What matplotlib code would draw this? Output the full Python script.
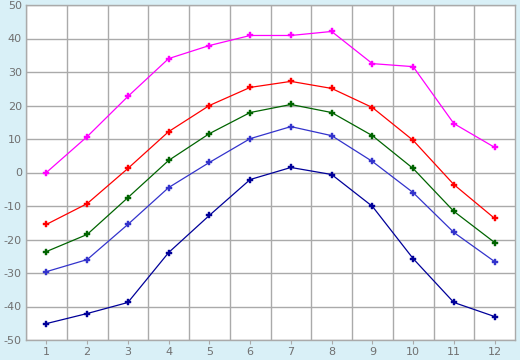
import matplotlib
matplotlib.use("Agg")
import matplotlib.pyplot as plt

plt.rcParams["axes.unicode_minus"] = False

months = list(range(1, 13))
s_max = [0, 10.7, 22.7, 34.0, 37.9, 40.9, 40.9, 42.1, 32.5, 31.6, 14.6, 7.5]
s_high = [-15.5, -9.3, 1.2, 12.2, 20.0, 25.4, 27.2, 25.1, 19.4, 9.6, -3.6, -13.7]
s_mean = [-23.6, -18.5, -7.5, 3.6, 11.6, 17.9, 20.3, 17.9, 11.0, 1.2, -11.6, -20.9]
s_low = [-29.6, -26.0, -15.5, -4.5, 3.0, 10.1, 13.7, 11.0, 3.3, -6.0, -17.9, -26.6]
s_min = [-45.1, -42.1, -38.8, -23.9, -12.8, -2.1, 1.5, -0.6, -10.1, -25.7, -38.8, -43.0]

series = [
    (s_max, "#ff00ff"),
    (s_high, "#ff0000"),
    (s_mean, "#006400"),
    (s_low, "#3333cc"),
    (s_min, "#000099"),
]

bg = "#d9f0f7"
grid = "#aaaaaa"

fig = plt.figure(figsize=(5.2, 3.6), dpi=100, facecolor=bg)
ax = fig.add_axes([26 / 520, 1 - 340 / 360, 489 / 520, 335 / 360])
ax.set_facecolor("white")

for vals, col in series:
    ax.plot(months, vals, color=col, lw=0.9, marker="P", ms=4,
            mec=col, mfc=col, mew=0.3, zorder=3)

ax.set_xlim(0.5, 12.5)
ax.set_ylim(-50, 50)
ax.set_yticks(range(-50, 51, 10))
ax.set_xticks(months)
ax.set_xticks([m + 0.5 for m in range(0, 12)], minor=True)
ax.grid(False)
ax.grid(True, which="minor", axis="x", color=grid, lw=1)
ax.grid(True, which="major", axis="y", color=grid, lw=1)

for sp in ax.spines.values():
    sp.set_color(grid)
    sp.set_linewidth(1)

ax.tick_params(axis="x", which="major", length=3, color=grid, labelsize=8,
               labelcolor="#707070", pad=2)
ax.tick_params(axis="x", which="minor", length=0)
ax.tick_params(axis="y", length=0, labelsize=8, labelcolor="#707070", pad=3)

fig.savefig("out.png", dpi=100, facecolor=bg)
